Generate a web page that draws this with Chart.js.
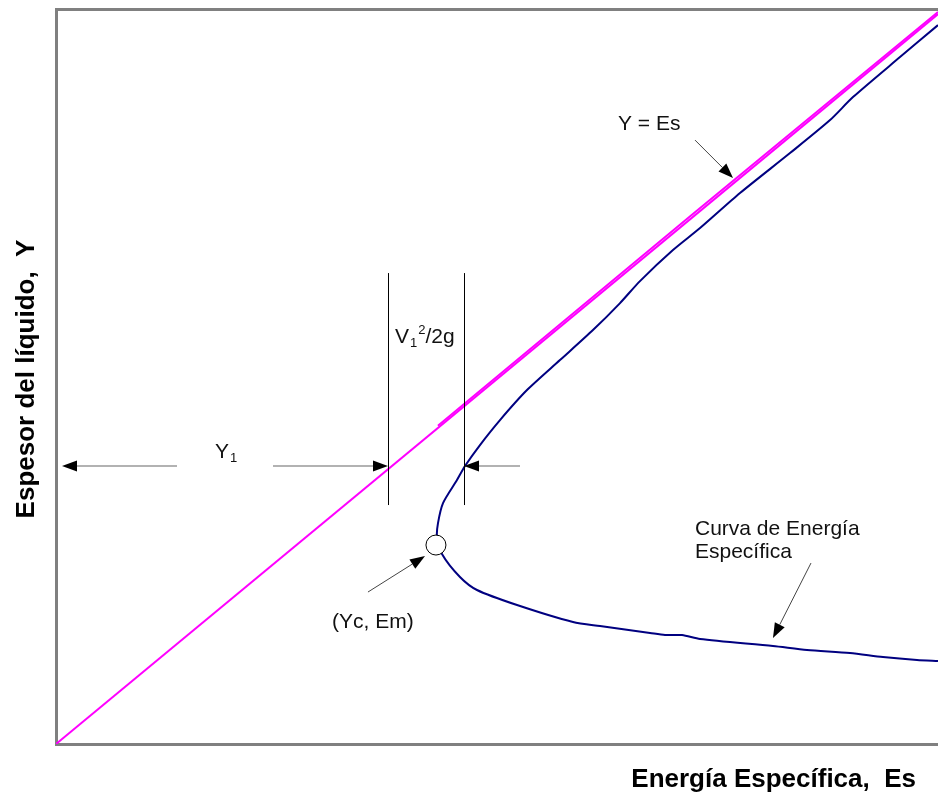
<!DOCTYPE html>
<html lang="es">
<head>
<meta charset="UTF-8">
<title>Curva de Energía Específica</title>
<script src="https://cdn.jsdelivr.net/npm/chart.js"></script>
<style>
    body { margin: 0; background: #fff; }
    .chart-box { width: 938px; height: 793px; }
</style>
</head>
<body>
<div class="chart-box"><canvas id="energyChart"></canvas></div>
<script>
    // Y = Es reference line (0..10 both ways)
    const lineEsX = [0, 10];
    const lineEsY = [0, 10];
    // second, slightly offset stroke of the same line (upper part)
    const lineEs2X = [4.33, 7.2, 10];
    const lineEs2Y = [4.36, 7.24, 10.03];

    // specific energy curve, upper branch (top right -> nose) then lower branch
    const curveEs = [10.0, 9.569, 9.036, 8.776, 8.322, 7.755, 7.302, 6.995, 6.621, 6.395, 6.088, 5.714, 5.340, 5.034, 4.807, 4.637, 4.546, 4.388, 4.331, 4.320,
                     4.376, 4.580, 4.773, 5.227, 5.862, 6.168, 6.735, 6.905, 7.098, 7.302, 8.129, 8.515, 9.002, 9.376, 9.762, 10.0];
    const curveY = [9.849, 9.411, 8.863, 8.548, 8.096, 7.548, 7.068, 6.767, 6.342, 6.041, 5.671, 5.260, 4.849, 4.438, 4.096, 3.808, 3.616, 3.301, 3.027, 2.836,
                    2.603, 2.288, 2.110, 1.904, 1.671, 1.616, 1.521, 1.493, 1.493, 1.438, 1.342, 1.288, 1.247, 1.192, 1.151, 1.137];

    // critical point (Yc, Em)
    const criticalEs = [4.308];
    const criticalY = [2.726];

    // annotations (data coordinates)
    const arrows = [
        { x1: 1.372, y1: 3.808, x2: 0.068, y2: 3.808, color: '#999999', width: 1.5 },
        { x1: 2.460, y1: 3.808, x2: 3.764, y2: 3.808, color: '#999999', width: 1.5 },
        { x1: 5.261, y1: 3.808, x2: 4.626, y2: 3.808, color: '#999999', width: 1.5 },
        { x1: 7.245, y1: 8.274, x2: 7.676, y2: 7.753, color: '#444444', width: 1 },
        { x1: 3.537, y1: 2.082, x2: 4.184, y2: 2.575, color: '#444444', width: 1 },
        { x1: 8.560, y1: 2.479, x2: 8.129, y2: 1.452, color: '#444444', width: 1 }
    ];
    const guideLines = [
        { x: 3.764, y1: 3.274, y2: 6.452 },
        { x: 4.626, y1: 3.274, y2: 6.452 }
    ];
    const labels = [
        { x: 6.372, y: 8.411, parts: [['Y = Es', 0]] },
        { x: 7.245, y: 2.863, parts: [['Curva de Energía', 0]] },
        { x: 7.245, y: 2.548, parts: [['Específica', 0]] },
        { x: 3.129, y: 1.589, parts: [['(Yc, Em)', 0]] },
        { x: 1.803, y: 3.918, parts: [['Y', 0], ['1', 1]] },
        { x: 3.844, y: 5.493, parts: [['V', 0], ['1', 1], ['2', -1], ['/2g', 0]] }
    ];
    const xTitle = 'Energía Específica,  Es';
    const yTitle = 'Espesor del líquido,  Y';

    const toPoints = (xs, ys) => xs.map((x, i) => ({ x: x, y: ys[i] }));

    const annotationPlugin = {
        id: 'annotations',
        afterDatasetsDraw(chart) {
            const ctx = chart.ctx;
            const xs = chart.scales.x;
            const ys = chart.scales.y;
            const area = chart.chartArea;
            ctx.save();

            // vertical guide lines
            ctx.strokeStyle = '#000';
            ctx.lineWidth = 1;
            guideLines.forEach(g => {
                const px = Math.round(xs.getPixelForValue(g.x)) + 0.5;
                ctx.beginPath();
                ctx.moveTo(px, ys.getPixelForValue(g.y1));
                ctx.lineTo(px, ys.getPixelForValue(g.y2));
                ctx.stroke();
            });

            // arrows
            arrows.forEach(a => {
                const x1 = xs.getPixelForValue(a.x1), y1 = ys.getPixelForValue(a.y1);
                const x2 = xs.getPixelForValue(a.x2), y2 = ys.getPixelForValue(a.y2);
                const ang = Math.atan2(y2 - y1, x2 - x1);
                const len = 15, half = 5.5;
                const bx = x2 - len * Math.cos(ang), by = y2 - len * Math.sin(ang);
                ctx.strokeStyle = a.color;
                ctx.lineWidth = a.width;
                ctx.beginPath();
                ctx.moveTo(x1, y1);
                ctx.lineTo(bx, by);
                ctx.stroke();
                ctx.fillStyle = '#000';
                ctx.beginPath();
                ctx.moveTo(x2, y2);
                ctx.lineTo(bx - half * Math.sin(ang), by + half * Math.cos(ang));
                ctx.lineTo(bx + half * Math.sin(ang), by - half * Math.cos(ang));
                ctx.closePath();
                ctx.fill();
            });

            // labels with sub/superscripts
            ctx.fillStyle = '#111';
            ctx.textBaseline = 'alphabetic';
            ctx.textAlign = 'left';
            labels.forEach(l => {
                let px = xs.getPixelForValue(l.x);
                const py = ys.getPixelForValue(l.y);
                l.parts.forEach(([txt, shift]) => {
                    ctx.font = shift === 0 ? '21px "Liberation Sans", Arial' : '13px "Liberation Sans", Arial';
                    const dy = shift === 1 ? 4 : (shift === -1 ? -9 : 0);
                    ctx.fillText(txt, px + (shift ? 1 : 0), py + dy);
                    px += ctx.measureText(txt).width + (shift ? 1 : 0);
                });
            });

            // axis titles
            ctx.font = 'bold 26px "Liberation Sans", Arial';
            ctx.fillStyle = '#000';
            ctx.textAlign = 'right';
            ctx.fillText(xTitle, 916, area.bottom + 43);
            ctx.translate(34, 379);
            ctx.rotate(-Math.PI / 2);
            ctx.textAlign = 'center';
            ctx.fillText(yTitle, 0, 0);
            ctx.restore();
        }
    };

    const axisBorder = { display: true, color: '#808080', width: 3 };
    const noGrid = { display: false, drawTicks: false };

    new Chart(document.getElementById('energyChart'), {
        type: 'scatter',
        data: {
            datasets: [
                {
                    label: 'Punto crítico',
                    data: toPoints(criticalEs, criticalY),
                    pointRadius: 10,
                    pointBackgroundColor: '#fff',
                    pointBorderColor: '#000',
                    pointBorderWidth: 1,
                    showLine: false,
                    order: 0
                },
                {
                    label: 'Curva de Energía Específica',
                    data: toPoints(curveEs, curveY),
                    showLine: true,
                    borderColor: '#000080',
                    borderWidth: 2,
                    pointRadius: 0,
                    tension: 0.25,
                    order: 1
                },
                {
                    label: 'Y = Es',
                    data: toPoints(lineEsX, lineEsY),
                    showLine: true,
                    borderColor: '#ff00ff',
                    borderWidth: 2,
                    pointRadius: 0,
                    order: 2
                },
                {
                    label: 'Y = Es (2)',
                    data: toPoints(lineEs2X, lineEs2Y),
                    showLine: true,
                    borderColor: '#ff00ff',
                    borderWidth: 2,
                    pointRadius: 0,
                    order: 2
                }
            ]
        },
        options: {
            responsive: true,
            maintainAspectRatio: false,
            animation: false,
            layout: { autoPadding: false, padding: { left: 56, top: 9, right: 0, bottom: 49 } },
            plugins: { legend: { display: false }, tooltip: { enabled: false } },
            scales: {
                x: {
                    type: 'linear', min: 0, max: 10,
                    ticks: { display: false }, grid: noGrid, border: axisBorder
                },
                xTop: {
                    type: 'linear', position: 'top', min: 0, max: 10,
                    ticks: { display: false }, grid: noGrid, border: axisBorder
                },
                y: {
                    type: 'linear', min: 0, max: 10.07,
                    ticks: { display: false }, grid: noGrid, border: axisBorder
                }
            }
        },
        plugins: [annotationPlugin]
    });
</script>
</body>
</html>
